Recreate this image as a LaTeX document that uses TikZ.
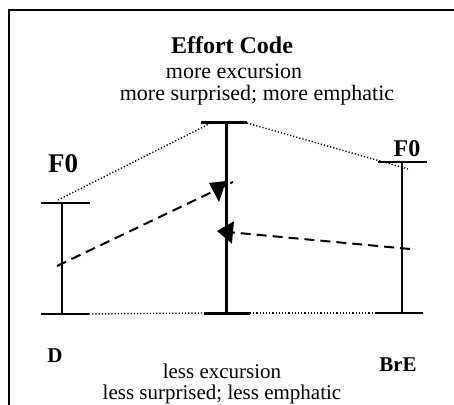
\documentclass[tikz,border=0pt]{standalone}
\usepackage{fontspec}
\setmainfont{Liberation Serif}
\usetikzlibrary{arrows.meta}
\tikzset{
  bar/.style = {line width=#1},
  bar/.default = 0.75pt,
  dashline/.style = {line width=1pt, dash pattern=on 5pt off 3pt},
  dotline/.style = {line width=0.7pt, dash pattern=on 0.6pt off 1pt},
  lbl/.style = {font=\fontsize{#1}{#1}\selectfont, inner sep=0pt},
  lbl/.default = 11,
  blbl/.style = {font=\fontsize{#1}{#1}\selectfont\bfseries, inner sep=0pt},
  blbl/.default = 12
}

\begin{document}
\begin{tikzpicture}[x=0.5pt, y=-0.5pt]
	\useasboundingbox (0,0) rectangle (454,405);

	% Frame
	\draw[bar=1.2pt] (9,405) -- (9,10) -- (454,10);

	% D bar
	\coordinate (Dtop) at (62,203);
	\coordinate (Dbot) at (62,314);
	\coordinate (DtopL) at (41,203);  \coordinate (DtopR) at (90,203);
	\coordinate (DbotL) at (41,314);  \coordinate (DbotR) at (89,314);
	\draw[bar] (Dtop) -- (Dbot);
	\draw[bar] (DtopL) -- (DtopR);
	\draw[bar] (DbotL) -- (DbotR);

	% Effort Code bar
	\coordinate (Etop) at (226,123);
	\coordinate (Ebot) at (226,313);
	\coordinate (EtopL) at (201,123); \coordinate (EtopR) at (247,123);
	\coordinate (EbotL) at (204,313); \coordinate (EbotR) at (250,313);
	\draw[bar=1.5pt] (Etop) -- (Ebot);
	\draw[bar=1.5pt] (EtopL) -- (EtopR);
	\draw[bar=1.5pt] (EbotL) -- (EbotR);

	% BrE bar
	\coordinate (Btop) at (402,162);
	\coordinate (Bbot) at (402,313);
	\coordinate (BtopL) at (378,162); \coordinate (BtopR) at (427,162);
	\coordinate (BbotL) at (376,313); \coordinate (BbotR) at (423,313);
	\draw[bar] (Btop) -- (Bbot);
	\draw[bar] (BtopL) -- (BtopR);
	\draw[bar] (BbotL) -- (BbotR);

	% Dotted range lines
	\coordinate (Ddot) at (58,200);
	\coordinate (Edot) at (215,121);
	\coordinate (Bdot) at (408,169);
	\draw[dotline] (Ddot) -- (Edot);
	\draw[dotline] (EtopR) -- (Bdot);
	\draw[dotline] (DbotR) -- (EbotL);
	\draw[dotline] (EbotR) -- (BbotL);

	% Dashed arrows
	\coordinate (Dstart) at (57,266);
	\coordinate (Dend) at (233,182);
	\draw[dashline] (Dstart) -- (Dend);
	\fill (209,183) -- (226,181) -- (219,202) -- cycle;

	\coordinate (Bstart) at (410,249);
	\coordinate (Bend) at (217,231);
	\draw[dashline, -{Triangle[length=8pt, width=11pt]}] (Bstart) -- (Bend);

	% Labels
	\node[blbl] (title) at (232,45) {Effort Code};
	\node[lbl] (moreexc) at (234,71) {more excursion};
	\node[lbl] (moresur) at (257,95) {more surprised; more emphatic};
	\node[blbl=13.5] (F0D) at (63,164) {F0};
	\node[blbl] (F0B) at (407,149) {F0};
	\node[blbl=10.5] (Dlbl) at (55,356) {D};
	\node[blbl=10.5] (Blbl) at (398,365) {BrE};
	\node[lbl=10.5] (lessexc) at (222,371) {less excursion};
	\node[lbl=10.5] (lesssur) at (222,394) {less surprised; less emphatic};

\end{tikzpicture}
\end{document}
